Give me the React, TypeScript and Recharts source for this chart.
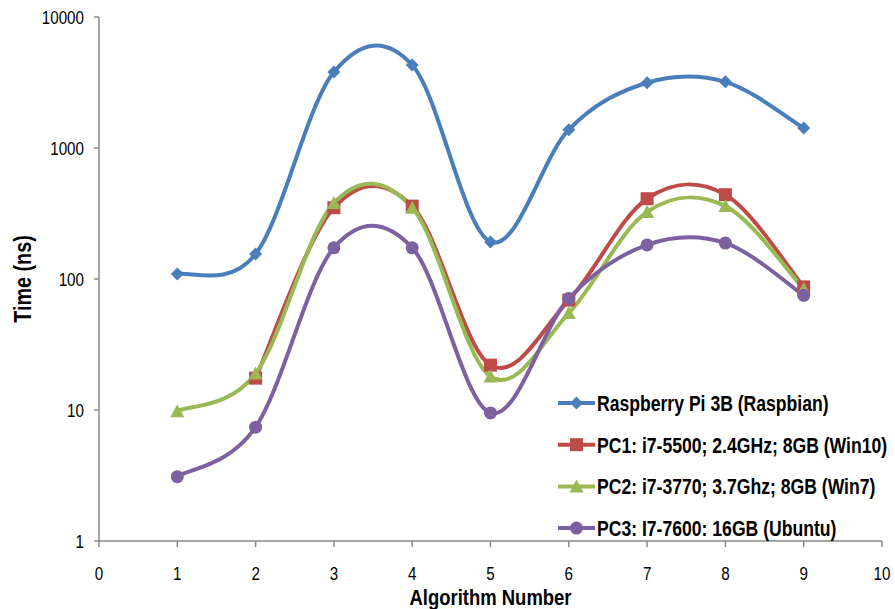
import React from "react";
import { LineChart, Line, XAxis, YAxis, Legend } from "recharts";

const algorithms = [1, 2, 3, 4, 5, 6, 7, 8, 9];
const raspberryPi = [109, 155, 3800, 4300, 192, 1380, 3150, 3200, 1420];
const pc1 = [null, 17.5, 350, 360, 22, 69, 410, 440, 87];
const pc2 = [9.8, 19, 380, 350, 18, 55, 325, 360, 84];
const pc3 = [3.1, 7.4, 173, 173, 9.5, 71, 182, 188, 75];

const xTicks = [0, 1, 2, 3, 4, 5, 6, 7, 8, 9, 10];
const yTicks = [1, 10, 100, 1000, 10000];

const series = [
  { key: "rpi", name: "Raspberry Pi 3B (Raspbian)", color: "#4A7EBB", shape: "diamond" },
  { key: "pc1", name: "PC1: i7-5500; 2.4GHz; 8GB (Win10)", color: "#BE4B48", shape: "square" },
  { key: "pc2", name: "PC2: i7-3770; 3.7Ghz; 8GB (Win7)", color: "#98B954", shape: "triangle" },
  { key: "pc3", name: "PC3: I7-7600: 16GB (Ubuntu)", color: "#7D60A0", shape: "circle" },
];

const data = algorithms.map((a, i) => ({
  x: a,
  rpi: raspberryPi[i],
  pc1: pc1[i],
  pc2: pc2[i],
  pc3: pc3[i],
}));

const FONT = '"Liberation Sans", Arial, sans-serif';
const AXIS = "#898989";

// Excel-like smoothed line (Catmull-Rom bezier)
function excelCurve(context: any) {
  let pts: number[][] = [];
  const k = 0.17;
  return {
    areaStart() {},
    areaEnd() {},
    lineStart() {
      pts = [];
    },
    lineEnd() {
      const n = pts.length;
      if (!n) return;
      context.moveTo(pts[0][0], pts[0][1]);
      for (let i = 0; i < n - 1; i++) {
        const p0 = pts[Math.max(i - 1, 0)];
        const p1 = pts[i];
        const p2 = pts[i + 1];
        const p3 = pts[Math.min(i + 2, n - 1)];
        context.bezierCurveTo(
          p1[0] + (p2[0] - p0[0]) * k,
          p1[1] + (p2[1] - p0[1]) * k,
          p2[0] - (p3[0] - p1[0]) * k,
          p2[1] - (p3[1] - p1[1]) * k,
          p2[0],
          p2[1]
        );
      }
    },
    point(x: number, y: number) {
      pts.push([+x, +y]);
    },
  };
}

// text squeezed horizontally to mimic Calibri proportions
function T({ x, y, anchor = "start", size, bold, rotate, sx = 0.8, children }: any) {
  const tr = `translate(${x},${y})${rotate ? ` rotate(${rotate})` : ""} scale(${sx},1)`;
  return (
    <text
      transform={tr}
      textAnchor={anchor}
      dy="0.36em"
      fontFamily={FONT}
      fontSize={size}
      fontWeight={bold ? "bold" : "normal"}
      fill="#000"
    >
      {children}
    </text>
  );
}

function Marker({ shape, cx, cy, color }: any) {
  if (shape === "diamond") {
    const r = 6.5;
    return <path d={`M${cx},${cy - r}L${cx + r},${cy}L${cx},${cy + r}L${cx - r},${cy}Z`} fill={color} />;
  }
  if (shape === "square") {
    return <rect x={cx - 6.5} y={cy - 6.5} width={13} height={13} fill={color} />;
  }
  if (shape === "triangle") {
    return <path d={`M${cx},${cy - 7}L${cx + 7},${cy + 6}L${cx - 7},${cy + 6}Z`} fill={color} />;
  }
  return <circle cx={cx} cy={cy} r={6.5} fill={color} />;
}

const makeDot = (shape: string, color: string) => (props: any) => {
  const { cx, cy, key, index } = props;
  if (cx == null || cy == null || isNaN(cy)) return <g key={key ?? index} />;
  return (
    <g key={key ?? index}>
      <Marker shape={shape} cx={cx} cy={cy} color={color} />
    </g>
  );
};

function LegendContent() {
  return (
    <div style={{ position: "relative", width: 0, height: 0 }}>
      <svg width={340} height={170} style={{ position: "absolute", left: 0, top: 0, overflow: "visible" }}>
        {series.map((s, i) => {
          const y = 12 + i * 41.7;
          return (
            <g key={s.key}>
              <line x1={1} x2={38} y1={y} y2={y} stroke={s.color} strokeWidth={4} />
              <Marker shape={s.shape} cx={19.5} cy={y} color={s.color} />
              <T x={40} y={y} size={22} bold>
                {s.name}
              </T>
            </g>
          );
        })}
      </svg>
    </div>
  );
}

function XTick({ x, y, payload }: any) {
  return (
    <T x={x} y={y + 18} anchor="middle" size={19}>
      {payload.value}
    </T>
  );
}

function YTick({ x, y, payload }: any) {
  return (
    <T x={x - 1} y={y} anchor="end" size={19}>
      {payload.value}
    </T>
  );
}

function YTitle({ viewBox }: any) {
  return (
    <T x={viewBox.x + 23} y={viewBox.y + viewBox.height / 2} anchor="middle" size={23} sx={0.86} bold rotate={-90}>
      Time (ns)
    </T>
  );
}

function XTitle({ viewBox }: any) {
  return (
    <T x={viewBox.x + viewBox.width / 2} y={viewBox.y + 56} anchor="middle" size={22} sx={0.84} bold>
      Algorithm Number
    </T>
  );
}

export default function App() {
  return (
    <div style={{ position: "absolute", left: 0, top: 0, background: "#fff" }}>
      <LineChart width={895} height={609} data={data} margin={{ top: 17, right: 13, bottom: 0, left: 0 }}>
        <XAxis
          dataKey="x"
          type="number"
          domain={[0, 10]}
          ticks={xTicks}
          interval={0}
          height={68}
          stroke={AXIS}
          strokeWidth={1.5}
          tickSize={6}
          tickMargin={8}
          tick={<XTick />}
          label={<XTitle />}
        />
        <YAxis
          scale="log"
          domain={[1, 10000]}
          ticks={yTicks}
          interval={0}
          allowDataOverflow
          width={99}
          stroke={AXIS}
          strokeWidth={1.5}
          tickSize={5}
          tickMargin={9}
          tick={<YTick />}
          label={<YTitle />}
        />
        {series.map((s) => (
          <Line
            key={s.key}
            dataKey={s.key}
            name={s.name}
            type={excelCurve as any}
            stroke={s.color}
            strokeWidth={4}
            dot={makeDot(s.shape, s.color)}
            activeDot={false}
            isAnimationActive={false}
          />
        ))}
        <Legend content={<LegendContent />} wrapperStyle={{ left: 557, top: 391, width: 340 }} />
      </LineChart>
    </div>
  );
}
